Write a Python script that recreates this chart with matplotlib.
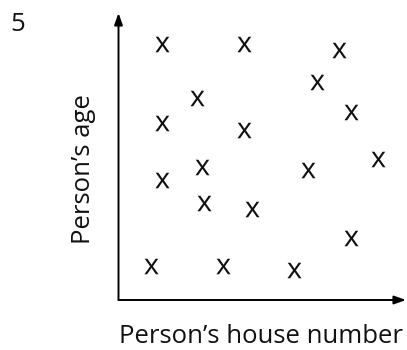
import matplotlib.pyplot as plt

plt.rcParams['font.family'] = ['Open Sans', 'DejaVu Sans']
plt.rcParams['mathtext.fontset'] = 'custom'
plt.rcParams['mathtext.sf'] = 'Open Sans'

# house number (x) and age (y) for each person, arbitrary 0-100 units
house_number = [15.0, 43.8, 76.6, 68.9, 27.2, 80.8, 15.0, 43.8, 90.2,
                28.9, 66.0, 15.0, 29.8, 46.5, 80.8, 11.3, 36.5, 61.1]
age = [89.1, 89.1, 87.1, 76.1, 70.5, 65.4, 61.6, 59.2, 49.1,
       46.4, 45.3, 41.8, 33.7, 31.7, 21.7, 12.0, 12.0, 10.5]

fig = plt.figure(figsize=(4.07, 3.5), dpi=100)
ax = fig.add_axes([118.5 / 407, 50 / 350, 287.5 / 407, 287 / 350])
ax.set_xlim(0, 100)
ax.set_ylim(0, 100)
ax.axis('off')

ax.scatter(house_number, age, marker=r'$\mathsf{x}$', s=125, color='#111111',
           linewidths=0)

# axes drawn as arrows
arrow = dict(arrowstyle='-|>,head_length=0.7,head_width=0.25', color='black',
             lw=1.4, shrinkA=0, shrinkB=0)
ax.annotate('', xy=(0, 1), xytext=(0, 0), xycoords='axes fraction',
            arrowprops=arrow, annotation_clip=False)
ax.annotate('', xy=(1, 0), xytext=(0, 0), xycoords='axes fraction',
            arrowprops=arrow, annotation_clip=False)

fig.text(83 / 407, 1 - 169 / 350, 'Person\u2019s age', rotation=90,
         ha='center', va='center', fontsize=18.5, color='#111111')
fig.text(261 / 407, 1 - 343 / 350, 'Person\u2019s house number',
         ha='center', va='baseline', fontsize=18.5, color='#111111')
fig.text(10 / 407, 1 - 31 / 350, '5', ha='left', va='baseline',
         fontsize=18.5, color='#111111')

fig.savefig('out.png', dpi=100)
